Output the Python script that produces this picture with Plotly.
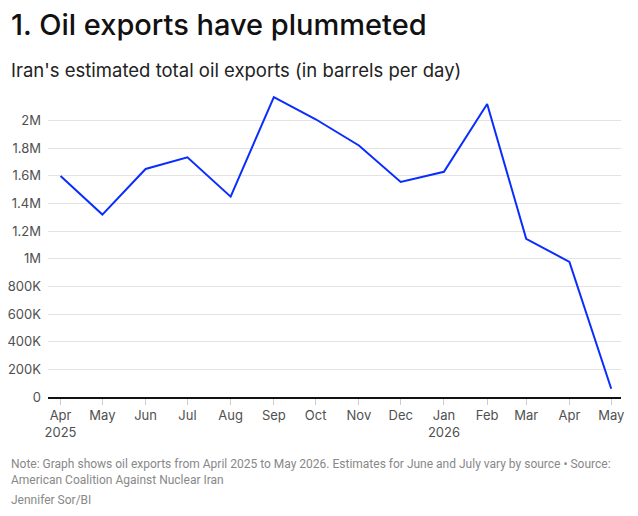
import plotly.graph_objects as go

# Iran's estimated total oil exports, barrels per day
months = [
    "2025-04-01", "2025-05-01", "2025-06-01", "2025-07-01", "2025-08-01",
    "2025-09-01", "2025-10-01", "2025-11-01", "2025-12-01", "2026-01-01",
    "2026-02-01", "2026-03-01", "2026-04-01", "2026-05-01",
]
exports = [
    1600000, 1320000, 1650000, 1735000, 1450000,
    2170000, 2010000, 1820000, 1556000, 1630000,
    2120000, 1145000, 978000, 60000,
]

x_tick_labels = [
    "Apr<br>2025", "May", "Jun", "Jul", "Aug", "Sep", "Oct",
    "Nov", "Dec", "Jan<br>2026", "Feb", "Mar", "Apr", "May",
]
y_tick_vals = [0, 200000, 400000, 600000, 800000, 1000000,
               1200000, 1400000, 1600000, 1800000, 2000000]
y_tick_labels = ["0", "200K", "400K", "600K", "800K", "1M",
                 "1.2M", "1.4M", "1.6M", "1.8M", "2M"]

FONT = "Inter"
NOTE_FONT = "Roboto"
TICK_COLOR = "#505050"

fig = go.Figure()
fig.add_trace(
    go.Scatter(
        x=months,
        y=exports,
        mode="lines",
        line=dict(color="#0a2dff", width=2),
        hoverinfo="x+y",
    )
)

fig.update_layout(
    width=638,
    height=516,
    margin=dict(l=48, r=17, t=93, b=119),
    paper_bgcolor="white",
    plot_bgcolor="white",
    showlegend=False,
    font=dict(family=FONT, color=TICK_COLOR, size=13),
    xaxis=dict(
        type="date",
        range=["2025-03-23", "2026-05-08"],
        tickvals=months,
        ticktext=x_tick_labels,
        ticks="outside",
        ticklen=6,
        tickcolor="#cccccc",
        showgrid=False,
        showline=True,
        linecolor="#111111",
        linewidth=1.5,
        zeroline=False,
        automargin=False,
        tickfont=dict(size=13, color=TICK_COLOR),
    ),
    yaxis=dict(
        range=[0, 2200000],
        tickvals=y_tick_vals,
        ticktext=y_tick_labels,
        showgrid=True,
        gridcolor="#e3e3e3",
        gridwidth=1,
        zeroline=False,
        showline=False,
        ticks="",
        ticklabelstandoff=6,
        automargin=False,
        tickfont=dict(size=13, color=TICK_COLOR),
    ),
    annotations=[
        dict(
            text="1. Oil exports have plummeted",
            xref="paper", yref="paper", x=-0.068, y=1.29,
            xanchor="left", yanchor="top", showarrow=False,
            font=dict(family=FONT, size=29, color="#111111", weight=500),
        ),
        dict(
            text="Iran's estimated total oil exports (in barrels per day)",
            xref="paper", yref="paper", x=-0.068, y=1.12,
            xanchor="left", yanchor="top", showarrow=False,
            font=dict(family=FONT, size=18.5, color="#222222"),
        ),
        dict(
            text="Note: Graph shows oil exports from April 2025 to May 2026. "
                 "Estimates for June and July vary by source \u2022 Source:<br>"
                 "American Coalition Against Nuclear Iran",
            xref="paper", yref="paper", x=-0.068, y=-0.19,
            xanchor="left", yanchor="top", align="left", showarrow=False,
            font=dict(family=NOTE_FONT, size=12, color="#888888"),
        ),
        dict(
            text="Jennifer Sor/BI",
            xref="paper", yref="paper", x=-0.068, y=-0.31,
            xanchor="left", yanchor="top", align="left", showarrow=False,
            font=dict(family=NOTE_FONT, size=12, color="#888888"),
        ),
    ],
)

# drop the default page margin so the 638x516 figure fills the window
fig.write_html(
    "out.html",
    config={"displayModeBar": False},
    post_script="document.body.style.margin = '0';",
)
